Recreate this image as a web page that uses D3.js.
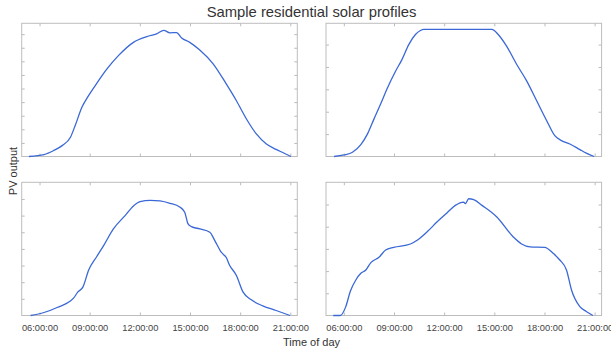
<!DOCTYPE html>
<html>
<head>
<meta charset="utf-8">
<script src="https://cdn.jsdelivr.net/npm/d3@7"></script>
<style>
  body { margin: 0; background: #fff; }
  text { font-family: "Liberation Sans", Arial, sans-serif; }
</style>
</head>
<body>
<div id="plot"></div>
<script>
// profile data (time of day, PV output)
const times1 = ["05:22","06:16","06:51","07:21","07:51","08:08","08:32","08:56","09:26","10:02","10:43","11:37","12:25","13:00","13:26","13:48","14:12","14:30","14:59","15:35","16:23","17:10","17:46","18:22","18:58","19:33","20:09","20:38","21:02"];
const pv1 = [0,0.07,0.22,0.40,0.71,1.14,1.81,2.24,2.70,3.22,3.71,4.20,4.41,4.51,4.64,4.55,4.56,4.36,4.20,3.92,3.41,2.67,2.06,1.39,0.83,0.47,0.26,0.12,0];

const times2 = ["05:25","06:01","06:31","07:01","07:25","07:48","08:12","08:36","09:06","09:29","09:53","10:17","10:35","10:47","14:51","15:14","15:44","16:20","16:56","17:32","18:08","18:37","19:01","19:31","20:07","20:30","20:58"];
const pv2 = [0,0.07,0.19,0.53,1.01,1.67,2.34,3.05,3.82,4.34,5.0,5.45,5.63,5.68,5.68,5.45,4.93,4.12,3.38,2.49,1.60,0.93,0.71,0.56,0.31,0.15,0];

const times3 = ["05:28","06:16","07:03","08:02","08:17","08:36","08:56","09:26","09:50","10:25","11:07","11:37","12:01","12:37","13:12","13:48","14:23","14:41","14:53","15:05","15:35","16:11","16:29","16:52","17:10","17:22","17:46","18:10","18:40","19:21","20:09","20:59"];
const pv3 = [0,0.09,0.24,0.52,0.70,0.86,1.36,1.78,2.10,2.60,3.0,3.29,3.42,3.46,3.44,3.37,3.26,3.10,2.75,2.67,2.60,2.50,2.25,1.90,1.74,1.51,1.21,0.71,0.47,0.29,0.15,0];

const times4 = ["05:22","05:47","06:07","06:23","06:43","07:01","07:19","07:37","08:06","08:30","08:59","09:59","10:23","10:59","11:35","12:10","12:40","13:10","13:16","13:28","13:46","14:16","15:09","16:08","16:38","17:08","18:01","18:31","18:55","19:19","19:37","20:07","20:30","20:54"];
const pv4 = [0,0,0.40,1.08,1.60,1.90,2.05,2.38,2.62,2.95,3.07,3.22,3.39,3.77,4.22,4.62,4.96,5.11,5.04,5.26,5.22,4.96,4.44,3.54,3.22,3.09,3.07,2.80,2.50,2.05,1.15,0.40,0.18,0];

const xTicks = ["06:00","09:00","12:00","15:00","18:00","21:00"];
const xRange = ["04:56","21:25"];
const yTops = [4.9, 5.95, 4.0, 6.0];
const yStep = [0.5, 1, 0.5, 1];

const w = 611, h = 353;
const parse = d3.timeParse("%H:%M");
const fmt = d3.timeFormat("%H:%M:%S");

const svg = d3.select("div#plot")
    .append("svg")
    .attr("width", w)
    .attr("height", h);

// panel boxes
const cols = [21.7, 326];
const rows = [23.3, 182.3];
const pw = 275.6, ph = 133.2;

const profiles = [
  {t: times1, v: pv1},
  {t: times2, v: pv2},
  {t: times3, v: pv3},
  {t: times4, v: pv4}
];

profiles.forEach((p, i) => {
  const x0 = cols[i % 2], y0 = rows[Math.floor(i / 2)];
  const g = svg.append("g").attr("transform", `translate(${x0},${y0})`);

  const xScale = d3.scaleTime()
      .domain(xRange.map(parse))
      .range([0, pw]);
  const yScale = d3.scaleLinear()
      .domain([0, yTops[i]])
      .range([ph, 0]);

  const tickVals = xTicks.map(parse);
  const yVals = d3.range(yStep[i], yTops[i], yStep[i]);
  const tickCol = "#aaa";

  // inward ticks on all sides
  g.append("g").attr("transform", `translate(0,${ph})`)
    .call(d3.axisBottom(xScale).tickValues(tickVals).tickSize(-3)
      .tickFormat(i >= 2 ? fmt : ""));
  g.append("g")
    .call(d3.axisTop(xScale).tickValues(tickVals).tickSize(-3).tickFormat(""));
  g.append("g")
    .call(d3.axisLeft(yScale).tickValues(yVals).tickSize(-3).tickFormat(""));
  g.append("g").attr("transform", `translate(${pw},0)`)
    .call(d3.axisRight(yScale).tickValues(yVals).tickSize(-3).tickFormat(""));

  g.selectAll(".domain").remove();
  g.selectAll(".tick line").attr("stroke", tickCol).attr("stroke-width", 0.8);
  g.selectAll(".tick text")
    .attr("fill", "#444")
    .attr("font-size", "9.3px")
    .attr("y", 9);

  g.append("rect")
    .attr("width", pw)
    .attr("height", ph)
    .attr("fill", "none")
    .attr("stroke", "#bdbdbd")
    .attr("stroke-width", 1);

  const line = d3.line()
      .x((d, k) => xScale(parse(p.t[k])))
      .y(d => yScale(d))
      .curve(d3.curveMonotoneX);

  g.append("path")
    .datum(p.v)
    .attr("d", line)
    .attr("fill", "none")
    .attr("stroke", "#3a68d6")
    .attr("stroke-width", 1.3)
    .attr("stroke-linejoin", "round");
});

svg.append("text")
    .attr("x", 311.5)
    .attr("y", 17)
    .attr("text-anchor", "middle")
    .attr("font-size", "14.8px")
    .attr("fill", "#333")
    .text("Sample residential solar profiles");

svg.append("text")
    .attr("x", 311.5)
    .attr("y", 346)
    .attr("text-anchor", "middle")
    .attr("font-size", "11px")
    .attr("fill", "#333")
    .text("Time of day");

svg.append("text")
    .attr("transform", "translate(17,171) rotate(-90)")
    .attr("text-anchor", "middle")
    .attr("font-size", "11px")
    .attr("fill", "#333")
    .text("PV output");
</script>
</body>
</html>
